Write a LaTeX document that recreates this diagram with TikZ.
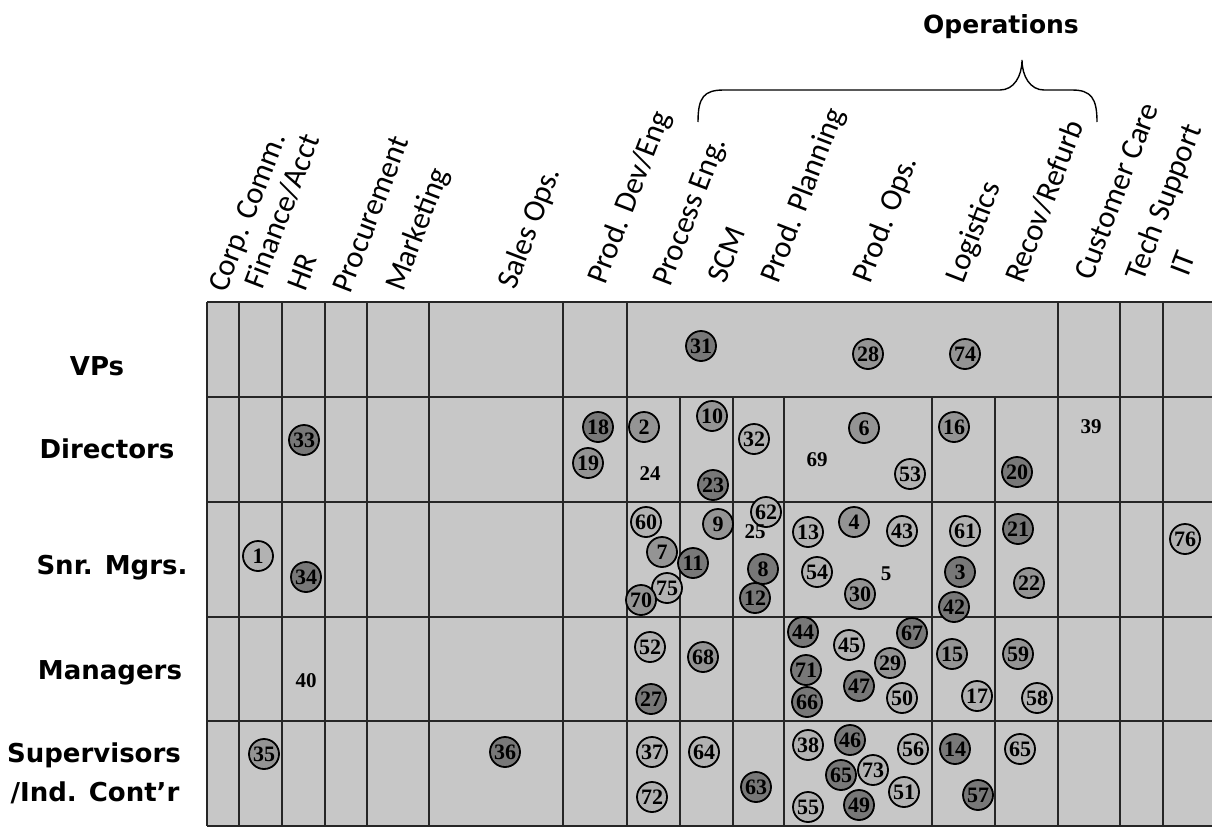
\documentclass[tikz,border=0pt]{standalone}
\usepackage{fontspec}
\newfontfamily\hdfont{Carlito}
\newfontfamily\lblfont{DejaVu Sans}
\newfontfamily\numfont{Liberation Serif}
\definecolor{tabbg}{gray}{0.78}
\definecolor{bubLt}{gray}{0.70}
\definecolor{bubMd}{gray}{0.58}
\definecolor{bubDk}{gray}{0.47}
\tikzset{
	tabline/.style = {line width=1.6pt, black!85},
	colhd/.style = {font=\hdfont\fontsize{31}{31}\selectfont, rotate=69, anchor=base west, inner sep=0pt},
	rowhd/.style = {font=\lblfont\bfseries\fontsize{26}{26}\selectfont, anchor=base, inner sep=0pt},
	bub/.style = {circle, draw=black, line width=1.8pt, minimum size=30pt, inner sep=0pt, font=\numfont\bfseries\fontsize{22}{22}\selectfont},
	bubL/.style = {bub, fill=bubLt},
	bubM/.style = {bub, fill=bubMd},
	bubD/.style = {bub, fill=bubDk},
	plainnum/.style = {inner sep=0pt, font=\numfont\bfseries\fontsize{21}{21}\selectfont}
}
\begin{document}
\begin{tikzpicture}[x=1pt, y=-1pt]
		\useasboundingbox (0,0) rectangle (1212,827);
		
		% table background
		\fill[tabbg] (207,302) rectangle (1212,826);
		% rows
		\draw[tabline] (207,302) -- (1212,302);
		\draw[tabline] (207,397) -- (1212,397);
		\draw[tabline] (207,502) -- (1212,502);
		\draw[tabline] (207,617) -- (1212,617);
		\draw[tabline] (207,721) -- (1212,721);
		\draw[tabline] (207,826) -- (1212,826);
		% columns, full height
		\draw[tabline] (207,302) -- (207,826);
		\draw[tabline] (239,302) -- (239,826);
		\draw[tabline] (282,302) -- (282,826);
		\draw[tabline] (325,302) -- (325,826);
		\draw[tabline] (367,302) -- (367,826);
		\draw[tabline] (429,302) -- (429,826);
		\draw[tabline] (563,302) -- (563,826);
		\draw[tabline] (627,302) -- (627,826);
		\draw[tabline] (1058,302) -- (1058,826);
		\draw[tabline] (1120,302) -- (1120,826);
		\draw[tabline] (1163,302) -- (1163,826);
		% columns, below VPs
		\draw[tabline] (680,397) -- (680,826);
		\draw[tabline] (733,397) -- (733,826);
		\draw[tabline] (784,397) -- (784,826);
		\draw[tabline] (932,397) -- (932,826);
		\draw[tabline] (995,397) -- (995,826);
		
		% column heads
		\node[colhd] (corp) at (226,294) {Corp. Comm.};
		\node[colhd] (fin) at (262,291) {Finance/Acct};
		\node[colhd] (hr) at (305,293) {HR};
		\node[colhd] (proc) at (350,295) {Procurement};
		\node[colhd] (mkt) at (403,293) {Marketing};
		\node[colhd] (sales) at (515,291) {Sales Ops.};
		\node[colhd] (pde) at (605,286) {Prod. Dev/Eng};
		\node[colhd] (pe) at (670,288) {Process Eng.};
		\node[colhd] (scm) at (725,285) {SCM};
		\node[colhd] (pp) at (778,285) {Prod. Planning};
		\node[colhd] (pops) at (870,285) {Prod. Ops.};
		\node[colhd] (logi) at (963,285) {Logistics};
		\node[colhd] (rr) at (1023,285) {Recov/Refurb};
		\node[colhd] (cc) at (1092,282) {Customer Care};
		\node[colhd] (ts) at (1143,283) {Tech Support};
		\node[colhd] (it) at (1188,278) {IT};
		
		% operations brace
		\draw[line width=1.4pt] (698,122) .. controls (698,97) and (704,90) .. (724,90) -- (1000,90)
			.. controls (1014,90) and (1022,76) .. (1022,60)
			.. controls (1022,76) and (1030,90) .. (1044,90) -- (1072,90)
			.. controls (1091,90) and (1097,98) .. (1097,122);
		\node[rowhd, font=\lblfont\bfseries\fontsize{25}{25}\selectfont] (ops) at (1001,33) {Operations};
		
		% row heads
		\node[rowhd] (vps) at (97,375) {VPs};
		\node[rowhd] (dirs) at (107,458) {Directors};
		\node[rowhd] (snr) at (112,574) {Snr. Mgrs.};
		\node[rowhd] (mgrs) at (110,679) {Managers};
		\node[rowhd] (sup) at (94,762) {Supervisors};
		\node[rowhd] (ind) at (95,801) {/Ind. Cont’r};
		
		% VPs
		\node[bubD] (c31) at (701,346) {31};
		\node[bubM] (c28) at (868,354) {28};
		\node[bubM] (c74) at (965,354) {74};
		
		% Directors
		\node[bubD] (c33) at (304,440) {33};
		\node[bubD] (c18) at (598,427) {18};
		\node[bubM] (c19) at (588,463) {19};
		\node[bubM] (c2) at (644,427) {2};
		\node[plainnum] (n24) at (650,474) {24};
		\node[bubM] (c10) at (712,416) {10};
		\node[bubD] (c23) at (713,485) {23};
		\node[bubL] (c32) at (754,439) {32};
		\node[plainnum] (n69) at (817,460) {69};
		\node[bubM] (c6) at (864,428) {6};
		\node[bubL] (c53) at (910,474) {53};
		\node[bubM] (c16) at (954,427) {16};
		\node[bubD] (c20) at (1017,472) {20};
		\node[plainnum] (n39) at (1091,427) {39};
		
		% Snr. Mgrs.
		\node[bubL] (c1) at (258,556) {1};
		\node[bubD] (c34) at (306,577) {34};
		\node[bubL] (c60) at (646,522) {60};
		\node[bubM] (c7) at (662,552) {7};
		\node[bubL] (c75) at (667,588) {75};
		\node[bubM] (c70) at (641,600) {70};
		\node[bubD] (c11) at (693,563) {11};
		\node[bubM] (c9) at (718,524) {9};
		\node[bubL] (c62) at (766,512) {62};
		\node[plainnum] (n25) at (755,532) {25};
		\node[bubD] (c8) at (763,569) {8};
		\node[bubD] (c12) at (755,598) {12};
		\node[bubL] (c13) at (808,532) {13};
		\node[bubM] (c4) at (854,522) {4};
		\node[bubL] (c43) at (902,531) {43};
		\node[bubL] (c54) at (817,572) {54};
		\node[plainnum] (n5) at (886,574) {5};
		\node[bubM] (c30) at (860,594) {30};
		\node[bubL] (c61) at (965,531) {61};
		\node[bubD] (c3) at (960,572) {3};
		\node[bubD] (c42) at (954,607) {42};
		\node[bubD] (c21) at (1018,529) {21};
		\node[bubM] (c22) at (1029,583) {22};
		\node[bubL] (c76) at (1185,539) {76};
		
		% Managers
		\node[plainnum] (n40) at (306,681) {40};
		\node[bubL] (c52) at (650,647) {52};
		\node[bubD] (c27) at (651,699) {27};
		\node[bubM] (c68) at (703,657) {68};
		\node[bubD] (c44) at (803,632) {44};
		\node[bubD] (c71) at (806,670) {71};
		\node[bubD] (c66) at (807,702) {66};
		\node[bubL] (c45) at (849,645) {45};
		\node[bubD] (c47) at (859,686) {47};
		\node[bubM] (c29) at (890,663) {29};
		\node[bubD] (c67) at (912,633) {67};
		\node[bubL] (c50) at (902,698) {50};
		\node[bubM] (c15) at (952,654) {15};
		\node[bubL] (c17) at (977,696) {17};
		\node[bubM] (c59) at (1018,654) {59};
		\node[bubL] (c58) at (1037,698) {58};
		
		% Supervisors
		\node[bubM] (c35) at (264,754) {35};
		\node[bubD] (c36) at (505,752) {36};
		\node[bubL] (c37) at (652,752) {37};
		\node[bubL] (c72) at (652,797) {72};
		\node[bubL] (c64) at (704,752) {64};
		\node[bubD] (c63) at (756,787) {63};
		\node[bubL] (c38) at (808,745) {38};
		\node[bubD] (c46) at (850,740) {46};
		\node[bubD] (c65a) at (841,775) {65};
		\node[bubL] (c73) at (873,770) {73};
		\node[bubL] (c55) at (808,807) {55};
		\node[bubD] (c49) at (859,805) {49};
		\node[bubL] (c51) at (904,792) {51};
		\node[bubL] (c56) at (913,749) {56};
		\node[bubD] (c14) at (955,749) {14};
		\node[bubD] (c57) at (978,795) {57};
		\node[bubL] (c65b) at (1020,749) {65};
		
	\end{tikzpicture}
\end{document}
